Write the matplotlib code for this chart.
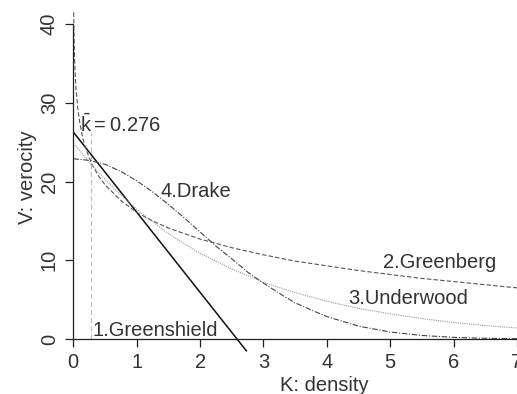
import matplotlib
matplotlib.use("Agg")
import matplotlib.pyplot as plt

plt.rcParams["font.family"] = ["Liberation Sans", "DejaVu Sans"]
plt.rcParams["mathtext.fontset"] = "custom"
plt.rcParams["mathtext.rm"] = "Liberation Sans"

# values
greenshield_k = [0.0, 2.73]
greenshield_v = [26.3, -1.5]

greenberg_k = [0.006, 0.01, 0.02, 0.04, 0.07, 0.1, 0.15, 0.2, 0.3, 0.4, 0.5, 0.75,
               1.0, 1.25, 1.5, 2.0, 2.5, 3.0, 3.5, 4.0, 4.5, 5.0, 5.5, 6.0, 6.5, 7.0]
greenberg_v = [41.5, 39.0, 35.5, 32.1, 29.3, 27.6, 25.5, 24.1, 22.1, 20.7, 19.6, 17.6,
               16.1, 15.0, 14.1, 12.7, 11.6, 10.7, 9.9, 9.3, 8.7, 8.2, 7.7, 7.3, 6.9, 6.5]

underwood_k = [0.0, 0.25, 0.5, 0.75, 1.0, 1.25, 1.5, 1.75, 2.0, 2.5, 3.0, 3.5, 4.0,
               4.5, 5.0, 5.5, 6.0, 6.5, 7.0]
underwood_v = [24.9, 22.5, 20.3, 18.3, 16.5, 14.9, 13.4, 12.1, 10.9, 8.9, 7.2, 5.9, 4.8,
               3.9, 3.2, 2.6, 2.1, 1.7, 1.4]

drake_k = [0.0, 0.25, 0.5, 0.75, 1.0, 1.25, 1.5, 1.75, 2.0, 2.25, 2.5, 2.75, 3.0, 3.25,
           3.5, 3.75, 4.0, 4.5, 5.0, 5.5, 6.0, 6.5, 7.0]
drake_v = [22.9, 22.7, 22.2, 21.3, 20.1, 18.7, 17.1, 15.4, 13.6, 11.8, 10.2, 8.5, 7.1, 5.8,
           4.6, 3.7, 2.85, 1.64, 0.89, 0.45, 0.21, 0.09, 0.04]

k_bar = 0.276
k_bar_top = 26.2

x_ticks = [0, 1, 2, 3, 4, 5, 6, 7]
y_ticks = [0, 10, 20, 30, 40]

TEXT = "#333333"
FS = 14.5

fig = plt.figure(figsize=(5.17, 3.94), dpi=100)
# left edge at k=0 (px 73.3), right edge at px 517; y range -2..43
ax = fig.add_axes([73.3 / 517, 0.0996, 1 - 73.3 / 517, 0.8989])
ax.set_xlim(0, 443.7 / 63.5)
ax.set_ylim(-2, 43)

ax.plot([k_bar, k_bar], [0, k_bar_top], color="#c0c0c0", lw=0.9, ls=(0, (4, 2.5)))
ax.plot(greenshield_k, greenshield_v, color="#111111", lw=1.1)
ax.plot(greenberg_k, greenberg_v, color="#555555", lw=0.8, ls=(0, (4, 2)))
ax.plot(underwood_k, underwood_v, color="#999999", lw=0.8, ls=(0, (1, 1)))
ax.plot(drake_k, drake_v, color="#444444", lw=0.8, ls=(0, (5, 1.5, 1, 1.5)))

for side in ("top", "right"):
    ax.spines[side].set_visible(False)
ax.spines["bottom"].set_position(("data", 0))
ax.spines["bottom"].set_bounds(0, 7.5)
ax.spines["left"].set_bounds(0, 40)
for side in ("bottom", "left"):
    ax.spines[side].set_color("#222222")
    ax.spines[side].set_linewidth(0.9)

ax.set_xticks(x_ticks)
ax.set_yticks(y_ticks)
ax.set_xticklabels([str(t) for t in x_ticks])
ax.set_yticklabels([str(t) for t in y_ticks], rotation=90, va="center")
ax.tick_params(length=5.8, width=0.9, color="#222222", labelcolor=TEXT,
               labelsize=FS, pad=4.5)

ax.text(0.1, 26.3, r"$\bar{\mathrm{k}}=$0.276", fontsize=FS, color=TEXT, va="baseline")
ax.text(0.3, 0.4, "1.Greenshield", fontsize=FS, color=TEXT, va="baseline")
ax.text(4.88, 9.0, "2.Greenberg", fontsize=FS, color=TEXT, va="baseline")
ax.text(4.34, 4.45, "3.Underwood", fontsize=FS, color=TEXT, va="baseline")
ax.text(1.38, 18.1, "4.Drake", fontsize=FS, color=TEXT, va="baseline")

ax.text(-0.73, 20.5, "V: verocity", fontsize=FS, color=TEXT, rotation=90,
        ha="center", va="center")
ax.text(3.96, -4.65, "K: density", fontsize=FS, color=TEXT, ha="center", va="top")

fig.savefig("out.png", dpi=100)
